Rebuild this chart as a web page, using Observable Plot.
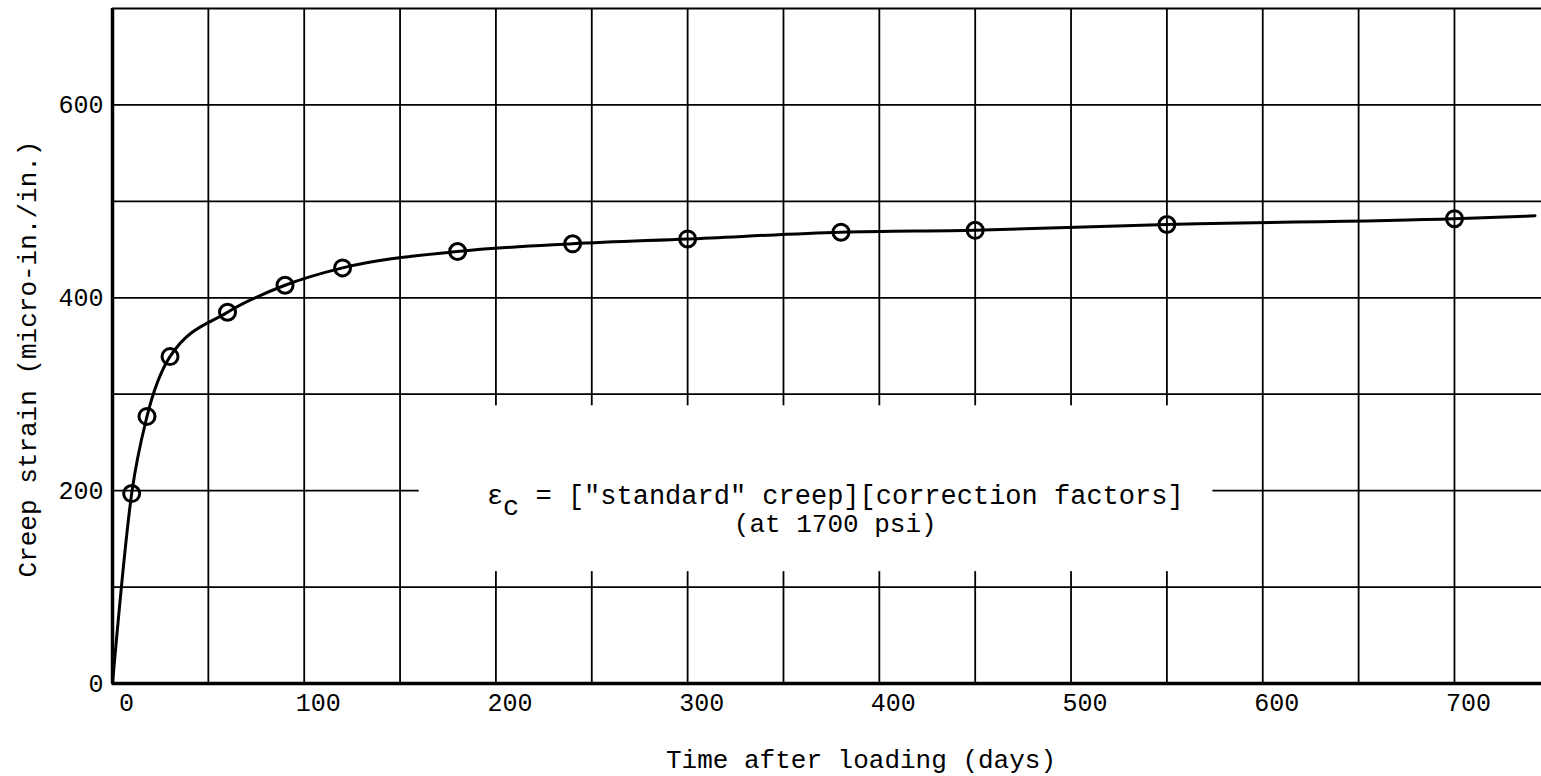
<!DOCTYPE html>
<html><head><meta charset="utf-8">
<script src="https://cdn.jsdelivr.net/npm/d3@7"></script>
<script src="https://cdn.jsdelivr.net/npm/@observablehq/plot@0.6"></script>
<style>html,body{margin:0;padding:0;background:#fff;}</style>
</head><body><div id="chart"></div>
<script>
// Data
const days   = [10, 18, 30, 60, 90, 120, 180, 240, 300, 380, 450, 550, 700];
const strain = [197, 277, 339, 385, 413, 431, 448, 456, 461, 468, 470, 476, 482];
const curveStart = {day: 0, strain: 0};
const curveEnd   = {day: 742, strain: 485};
const xTicks = [0, 100, 200, 300, 400, 500, 600, 700];
const yTicks = [0, 200, 400, 600];
const xGrid = [50, 100, 150, 200, 250, 300, 350, 400, 450, 500, 550, 600, 650, 700];
const yGrid = [100, 200, 300, 400, 500, 600, 700];
const xTitle = "Time after loading (days)";
const yTitle = "Creep strain (micro-in./in.)";
const noteLine1 = "εc = [\"standard\" creep][correction factors]";
const noteLine2 = "(at 1700 psi)";
const noteAnchor = {day: 377, strain: 195};
const noteBox = {x1: 160, x2: 574, y1: 116, y2: 288};

const points = days.map((d, i) => ({day: d, strain: strain[i]}));
const curve = [curveStart, ...points, curveEnd];
const font = "'Liberation Mono', 'DejaVu Sans Mono', monospace";

const chart = Plot.plot({
  width: 1541, height: 776,
  marginLeft: 112, marginRight: 0, marginTop: 8, marginBottom: 93,
  style: {fontFamily: font, fontSize: "25px", color: "#000", background: "#fff", overflow: "visible"},
  x: {domain: [0, 745.4]},
  y: {domain: [0, 700]},
  marks: [
    Plot.ruleX(xGrid, {stroke: "#000", strokeWidth: 1.8}),
    Plot.ruleY(yGrid, {stroke: "#000", strokeWidth: 1.8}),
    Plot.rect([noteBox], {x1: "x1", x2: "x2", y1: "y1", y2: "y2", fill: "#fff"}),
    Plot.ruleX([0], {stroke: "#000", strokeWidth: 3.5}),
    Plot.ruleY([0], {stroke: "#000", strokeWidth: 3.5}),
    Plot.line(curve, {x: "day", y: "strain", curve: "monotone-x", stroke: "#000", strokeWidth: 3}),
    Plot.dot(points, {x: "day", y: "strain", r: 8, stroke: "#000", strokeWidth: 3, fill: "none"}),
    Plot.axisX(xTicks, {tickSize: 0, tickPadding: 10, dx: 14, label: null, fontSize: 25, tickFormat: d => String(d)}),
    Plot.axisY(yTicks, {tickSize: 0, tickPadding: 9, label: null, fontSize: 25, tickFormat: d => String(d)}),
    Plot.text([noteAnchor], {x: "day", y: "strain", text: () => noteLine1, fontSize: 27, textAnchor: "middle", lineAnchor: "middle"}),
    Plot.text([noteAnchor], {x: "day", y: "strain", text: () => noteLine2, fontSize: 26, textAnchor: "middle", lineAnchor: "middle", dy: 28}),
    Plot.text([xTitle], {text: d => d, frameAnchor: "bottom", textAnchor: "middle", lineAnchor: "middle", dx: 34, dy: 76, fontSize: 26}),
    Plot.text([yTitle], {text: d => d, frameAnchor: "left", textAnchor: "middle", lineAnchor: "middle", rotate: -90, dx: -85, dy: 13, fontSize: 26})
  ]
});
document.getElementById("chart").appendChild(chart);

// subscript "c" after epsilon in the note
d3.select(chart).selectAll("text").filter(function() { return this.textContent === noteLine1; })
  .each(function() {
    const t = d3.select(this);
    t.text(null);
    t.append("tspan").text(noteLine1.slice(0, 1));
    t.append("tspan").attr("dy", "0.4em").text(noteLine1.slice(1, 2));
    t.append("tspan").attr("dy", "-0.4em").text(noteLine1.slice(2));
  });
</script>
</body></html>
